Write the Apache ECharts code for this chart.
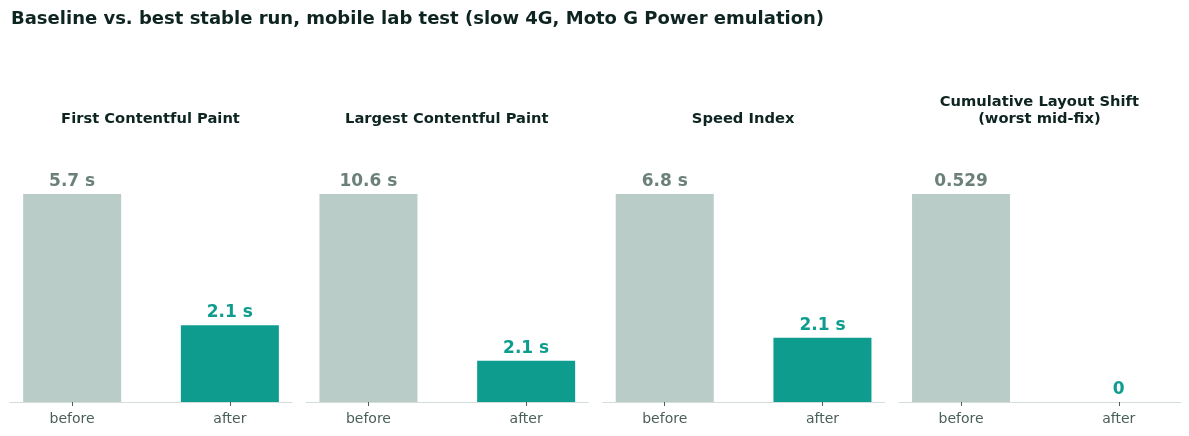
<!DOCTYPE html>
<html>
<head>
<meta charset="utf-8">
<script src="https://cdn.jsdelivr.net/npm/echarts@6/dist/echarts.min.js"></script>
<style>
  html, body { margin: 0; padding: 0; background: #fff; }
  #chart { width: 1189px; height: 436px; }
</style>
</head>
<body>
<div id="chart"></div>
<script>
var metrics = ['First Contentful Paint', 'Largest Contentful Paint', 'Speed Index', 'Cumulative Layout Shift\n(worst mid-fix)'];
var units = [' s', ' s', ' s', ''];
var categories = ['before', 'after'];
var beforeValues = [5.7, 10.6, 6.8, 0.529];
var afterValues = [2.1, 2.1, 2.1, 0];

var beforeColor = '#b9ccc8';
var afterColor = '#0e9c8e';
var font = '"DejaVu Sans", Verdana, sans-serif';

var titles = [{
    text: 'Baseline vs. best stable run, mobile lab test (slow 4G, Moto G Power emulation)',
    left: 6,
    top: 5,
    textStyle: { fontFamily: font, fontSize: 18, fontWeight: 'bold', color: '#0d2421' }
}];
var grids = [], xAxes = [], yAxes = [], seriesArr = [];

metrics.forEach(function (name, i) {
    var left = 10 + i * 296.3;
    var lines = name.split('\n').length;
    titles.push({
        text: name,
        left: left + 135.5,
        top: lines > 1 ? 89 : 106,
        textAlign: 'center',
        textStyle: { fontFamily: font, fontSize: 14.7, fontWeight: 'bold', color: '#0d2421', lineHeight: 17 }
    });
    grids.push({ left: left, width: 282, top: 194, bottom: 34 });
    xAxes.push({
        type: 'value', gridIndex: i, min: -0.394, max: 1.394,
        splitLine: { show: false },
        axisLine: { show: true, onZero: false, lineStyle: { color: '#d3dedb', width: 1 } },
        axisTick: { show: true, customValues: [0, 1], length: 4, lineStyle: { color: '#4a5e59' } },
        axisLabel: {
            customValues: [0, 1], margin: 10,
            fontFamily: font, fontSize: 14, color: '#4a5e59',
            formatter: function (v) { return categories[Math.round(v)]; }
        }
    });
    yAxes.push({ type: 'value', gridIndex: i, min: 0, max: beforeValues[i], show: false });
    var vals = [beforeValues[i], afterValues[i]];
    seriesArr.push({
        type: 'bar', xAxisIndex: i, yAxisIndex: i, barWidth: 98,
        data: vals.map(function (v, k) {
            return {
                value: [k, v],
                itemStyle: { color: k === 0 ? beforeColor : afterColor },
                label: { color: k === 0 ? '#6b8079' : afterColor }
            };
        }),
        label: {
            show: true, position: 'top', distance: 4,
            fontFamily: font, fontSize: 17, fontWeight: 'bold',
            formatter: function (p) { return p.value[1] + units[i]; }
        },
        emphasis: { disabled: true }
    });
});

var myChart = echarts.init(document.getElementById('chart'));
myChart.setOption({
    animation: false,
    title: titles,
    grid: grids,
    xAxis: xAxes,
    yAxis: yAxes,
    series: seriesArr
});

window.onresize = function () { myChart.resize(); };
</script>
</body>
</html>
